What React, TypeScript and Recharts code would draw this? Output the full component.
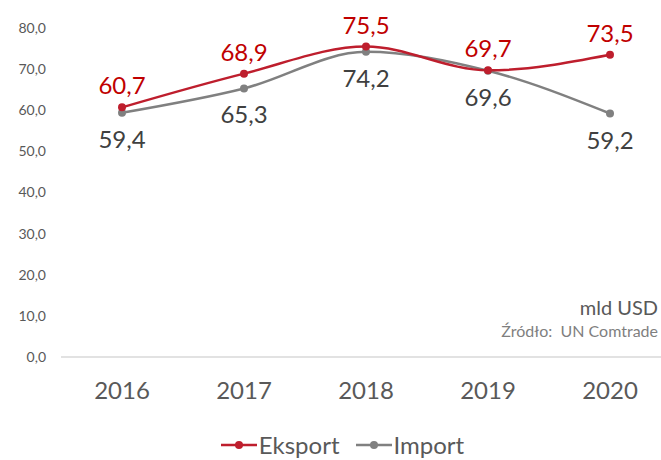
import React from "react"
import { LineChart, Line, XAxis, YAxis, Legend, LabelList } from "recharts"

const years = ["2016", "2017", "2018", "2019", "2020"]
const eksport = [60.7, 68.9, 75.5, 69.7, 73.5]
const importValues = [59.4, 65.3, 74.2, 69.6, 59.2]
const yTicks = [0, 10, 20, 30, 40, 50, 60, 70, 80]

const RED = "#BE1E2D"
const RED_TEXT = "#C00000"
const GRAY = "#808080"
const FONT = "Lato, 'Open Sans', sans-serif"

const data = years.map((year, i) => ({
  year,
  Eksport: eksport[i],
  Import: importValues[i],
}))

const fmt = (v: number) => v.toFixed(1).replace(".", ",")

function LegendContent() {
  const items = [
    { name: "Eksport", color: RED },
    { name: "Import", color: GRAY },
  ]
  return (
    <div style={{ display: "flex", justifyContent: "center", gap: 16, paddingLeft: 14, fontFamily: FONT }}>
      {items.map((it) => (
        <div key={it.name} style={{ display: "flex", alignItems: "center" }}>
          <svg width={36} height={12} style={{ marginRight: 2 }}>
            <line x1={0} y1={6} x2={36} y2={6} stroke={it.color} strokeWidth={2.5} />
            <circle cx={18} cy={6} r={4} fill={it.color} />
          </svg>
          <span style={{ fontSize: 24, color: "#595959", lineHeight: "30px" }}>{it.name}</span>
        </div>
      ))}
    </div>
  )
}

export default function App() {
  return (
    <div style={{ position: "absolute", left: 0, top: 0, width: 661, height: 460, overflow: "hidden", background: "#fff" }}>
      <LineChart width={671} height={460} data={data} margin={{ top: 28, right: 0, left: 0, bottom: 0 }}>
        <XAxis
          dataKey="year"
          scale="band"
          height={73}
          tickLine={false}
          axisLine={{ stroke: "#d9d9d9", strokeWidth: 1.5 }}
          tickMargin={19}
          tick={{ fontSize: 24, fill: "#595959", fontFamily: FONT }}
        />
        <YAxis
          width={61}
          domain={[0, 80]}
          ticks={yTicks}
          axisLine={false}
          tickLine={false}
          tickMargin={9}
          tickFormatter={fmt}
          tick={{ fontSize: 14, fill: "#595959", fontFamily: FONT }}
        />
        <Legend verticalAlign="bottom" height={30} content={<LegendContent />} />
        <Line
          type="monotone"
          dataKey="Import"
          stroke={GRAY}
          strokeWidth={2.5}
          dot={{ r: 4, fill: GRAY, stroke: GRAY, strokeWidth: 0 }}
          isAnimationActive={false}
        >
          <LabelList
            dataKey="Import"
            position="bottom"
            offset={18}
            formatter={(v: any) => fmt(Number(v))}
            style={{ fontSize: 24, fill: "#404040", fontFamily: FONT }}
          />
        </Line>
        <Line
          type="monotone"
          dataKey="Eksport"
          stroke={RED}
          strokeWidth={2.5}
          dot={{ r: 4, fill: RED, stroke: RED, strokeWidth: 0 }}
          isAnimationActive={false}
        >
          <LabelList
            dataKey="Eksport"
            position="top"
            offset={13}
            formatter={(v: any) => fmt(Number(v))}
            style={{ fontSize: 24, fill: RED_TEXT, fontFamily: FONT }}
          />
        </Line>
      </LineChart>
      <div
        style={{
          position: "absolute",
          right: 3,
          top: 295,
          textAlign: "right",
          fontFamily: FONT,
          color: "#595959",
        }}
      >
        <div style={{ fontSize: 20, lineHeight: "24px" }}>mld USD</div>
        <div style={{ fontSize: 16, color: "#7f7f7f", lineHeight: "20px", marginTop: 2, whiteSpace: "pre" }}>
          Źródło:  UN Comtrade
        </div>
      </div>
    </div>
  )
}
